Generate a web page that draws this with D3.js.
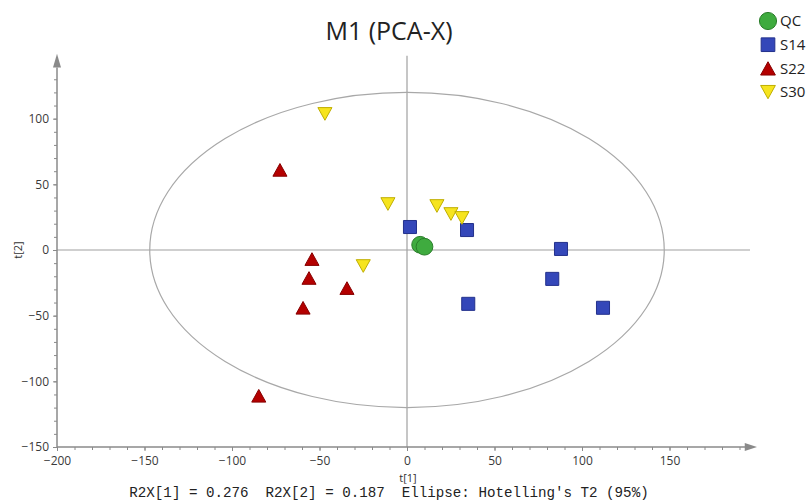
<!DOCTYPE html>
<html>
<head>
<meta charset="utf-8">
<script src="https://cdn.jsdelivr.net/npm/d3@7/dist/d3.min.js"></script>
<style>
  html, body { margin: 0; padding: 0; background: #fff; }
  svg { display: block; font-family: "Open Sans", "Noto Sans", sans-serif; }
  .footer { font-family: "Liberation Mono", "DejaVu Sans Mono", monospace; white-space: pre; }
</style>
</head>
<body>
<svg id="chart" width="808" height="502"></svg>
<script>
// PCA score coordinates, t[1] and t[2] per group
const qcT1  = [7.5, 10];
const qcT2  = [4, 2.5];
const s14T1 = [1.7, 34.3, 88, 83, 112, 35];
const s14T2 = [17.5, 15.2, 0.8, -22, -44, -41];
const s22T1 = [-72.6, -54.3, -56, -34.3, -59.4, -84.7];
const s22T2 = [61, -6.9, -21.3, -29, -44, -111];
const s30T1 = [-46.9, -25, -10.9, 17.1, 25.1, 31.4];
const s30T2 = [103.6, -12.2, 35, 33.5, 27.4, 24.4];

const groups = ["QC", "S14", "S22", "S30"];
const xTicks = [-200, -150, -100, -50, 0, 50, 100, 150];
const yTicks = [-150, -100, -50, 0, 50, 100];
// Hotelling's T2 (95%) ellipse semi-axes in score units
const ellipseT1 = 147;
const ellipseT2 = 120;

const title = "M1 (PCA-X)";
const footer = "R2X[1] = 0.276  R2X[2] = 0.187  Ellipse: Hotelling's T2 (95%)";

const styles = {
  QC:  { shape: "circle",   fill: "#3fab3f", stroke: "#2a7d2a", size: 220 },
  S14: { shape: "square",   fill: "#3447b9", stroke: "#23318c", size: 170 },
  S22: { shape: "up",       fill: "#b40000", stroke: "#870000", size: 110 },
  S30: { shape: "down",     fill: "#f6e41e", stroke: "#bfae00", size: 110 }
};

const series = [
  { name: "QC",  t1: qcT1,  t2: qcT2 },
  { name: "S14", t1: s14T1, t2: s14T2 },
  { name: "S22", t1: s22T1, t2: s22T2 },
  { name: "S30", t1: s30T1, t2: s30T2 }
];

const svg = d3.select("#chart");
const x = d3.scaleLinear().domain([-200, 200]).range([57, 757]);
const y = d3.scaleLinear().domain([-150, 150]).range([447, 53]);

const axisColor = "#8a8a8a";
const refColor = "#a0a0a0";

// symbol generator: triangles pointing up/down, squares, circles
function symbolPath(shape, size) {
  if (shape === "circle") return d3.symbol(d3.symbolCircle, size)();
  if (shape === "square") return d3.symbol(d3.symbolSquare, size)();
  const w = Math.sqrt(size * 1.8), h = w * 0.9;
  if (shape === "up") return `M0,${-h/2}L${w/2},${h/2}L${-w/2},${h/2}Z`;
  return `M0,${h/2}L${w/2},${-h/2}L${-w/2},${-h/2}Z`;
}

// Title
svg.append("text")
  .attr("x", 389).attr("y", 40)
  .attr("text-anchor", "middle")
  .style("font-size", "25px").attr("fill", "#222")
  .text(title);

// Reference lines through the origin
svg.append("line")
  .attr("x1", x(-200)).attr("x2", x(196))
  .attr("y1", y(0)).attr("y2", y(0))
  .attr("stroke", refColor).attr("stroke-width", 1.2);
svg.append("line")
  .attr("x1", x(0)).attr("x2", x(0))
  .attr("y1", y(-150)).attr("y2", y(148))
  .attr("stroke", refColor).attr("stroke-width", 1.2);

// Confidence ellipse
svg.append("ellipse")
  .attr("cx", x(0)).attr("cy", y(0))
  .attr("rx", x(ellipseT1) - x(0))
  .attr("ry", y(0) - y(ellipseT2))
  .attr("fill", "none").attr("stroke", "#a8a8a8").attr("stroke-width", 1.2);

// X axis: minor ticks every 10, labelled major ticks every 50
const xAxisG = svg.append("g").attr("transform", `translate(0,${y(-150)})`);
xAxisG.call(d3.axisBottom(x).tickValues(d3.range(-200, 195, 10)).tickSize(3).tickFormat(""));
xAxisG.call(g => g.select(".domain").remove());
const xMajor = svg.append("g").attr("transform", `translate(0,${y(-150)})`)
  .call(d3.axisBottom(x).tickValues(xTicks).tickSize(4).tickPadding(5).tickFormat(d3.format("d")));
xMajor.select(".domain").remove();
xMajor.selectAll("text").style("font-size", "12px").attr("fill", "#3a3a3a")
  .style("font-family", "'Open Sans', 'Noto Sans', sans-serif");
svg.append("line")
  .attr("x1", x(-200)).attr("x2", x(194))
  .attr("y1", y(-150)).attr("y2", y(-150))
  .attr("stroke", axisColor).attr("stroke-width", 1.5);
svg.append("path")
  .attr("d", `M${x(193)},${y(-150) - 4}L${x(200)},${y(-150)}L${x(193)},${y(-150) + 4}Z`)
  .attr("fill", axisColor);

// Y axis
const yAxisG = svg.append("g").attr("transform", `translate(${x(-200)},0)`);
yAxisG.call(d3.axisLeft(y).tickValues(d3.range(-150, 135, 10)).tickSize(3).tickFormat(""));
yAxisG.call(g => g.select(".domain").remove());
const yMajor = svg.append("g").attr("transform", `translate(${x(-200)},0)`)
  .call(d3.axisLeft(y).tickValues(yTicks).tickSize(4).tickPadding(4).tickFormat(d3.format("d")));
yMajor.select(".domain").remove();
yMajor.selectAll("text").style("font-size", "12px").attr("fill", "#3a3a3a")
  .style("font-family", "'Open Sans', 'Noto Sans', sans-serif");
svg.append("line")
  .attr("x1", x(-200)).attr("x2", x(-200))
  .attr("y1", y(-150)).attr("y2", y(139))
  .attr("stroke", axisColor).attr("stroke-width", 1.5);
svg.append("path")
  .attr("d", `M${x(-200) - 4},${y(139)}L${x(-200)},${y(149.5)}L${x(-200) + 4},${y(139)}Z`)
  .attr("fill", axisColor);

svg.selectAll(".tick line").attr("stroke", axisColor);

// Axis titles
svg.append("text")
  .attr("x", x(0) + 1).attr("y", 482)
  .attr("text-anchor", "middle")
  .style("font-size", "11px").attr("fill", "#333")
  .text("t[1]");
svg.append("text")
  .attr("transform", `translate(22,${y(0)}) rotate(-90)`)
  .attr("text-anchor", "middle")
  .style("font-size", "11px").attr("fill", "#333")
  .text("t[2]");

// Score points
series.forEach(s => {
  const st = styles[s.name];
  const pts = s.t1.map((v, i) => [v, s.t2[i]]);
  svg.append("g").selectAll("path")
    .data(pts)
    .join("path")
    .attr("transform", d => `translate(${x(d[0])},${y(d[1])})`)
    .attr("d", symbolPath(st.shape, st.size))
    .attr("fill", st.fill)
    .attr("stroke", st.stroke)
    .attr("stroke-width", 1);
});

// Legend
const legend = svg.append("g");
groups.forEach((name, i) => {
  const st = styles[name];
  const ly = 21 + i * 23.7;
  legend.append("path")
    .attr("transform", `translate(768,${ly})`)
    .attr("d", symbolPath(st.shape, st.size * (name === "QC" ? 1.05 : 1.1)))
    .attr("fill", st.fill).attr("stroke", st.stroke).attr("stroke-width", 1);
  legend.append("text")
    .attr("x", 780).attr("y", ly)
    .attr("dy", "0.35em")
    .style("font-size", "15px").attr("fill", "#222")
    .text(name);
});

// Footer with explained variance
svg.append("text")
  .attr("class", "footer")
  .attr("x", 389).attr("y", 497)
  .attr("text-anchor", "middle")
  .style("font-size", "14.2px").attr("fill", "#222")
  .text(footer);
</script>
</body>
</html>
